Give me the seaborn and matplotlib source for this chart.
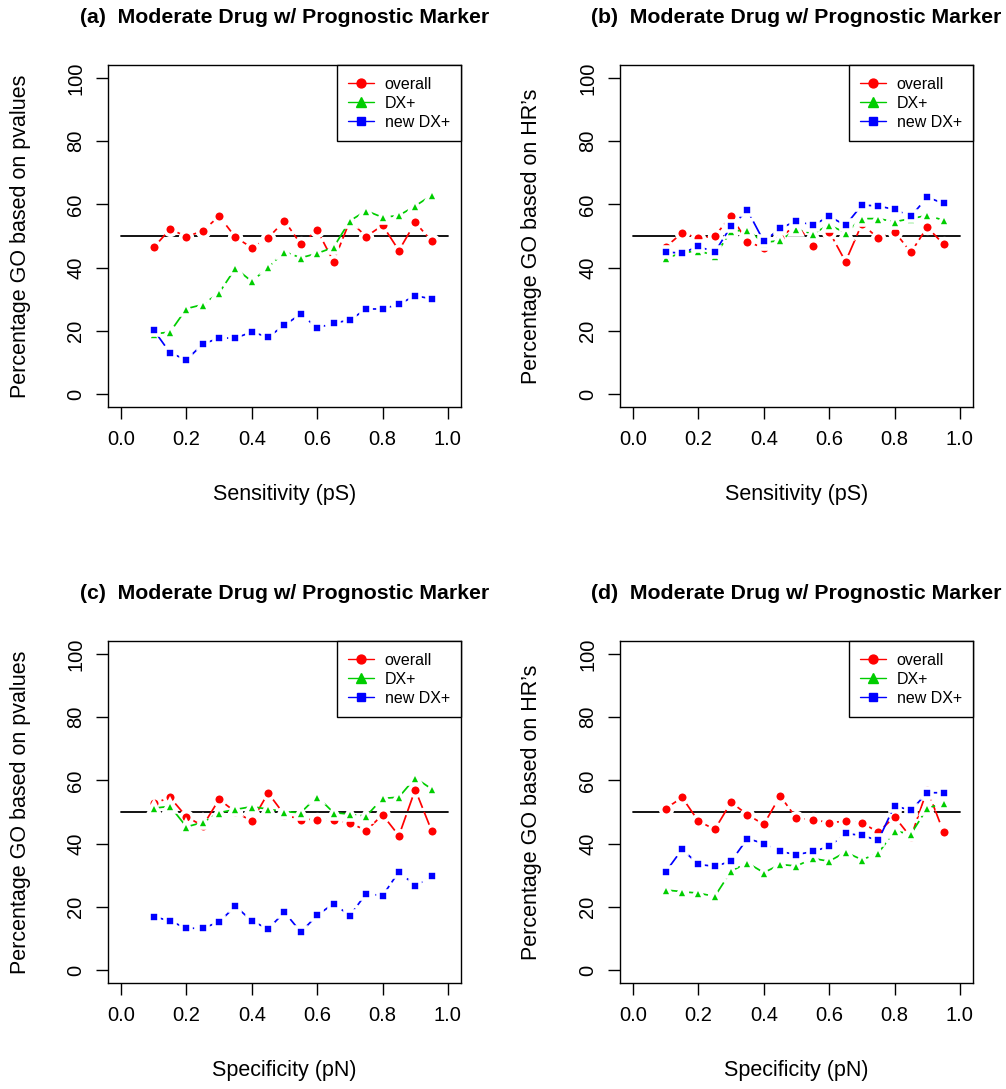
import matplotlib
matplotlib.use('Agg')
import matplotlib.pyplot as plt
import seaborn as sns
from matplotlib.lines import Line2D

# ================= 数据 =================
X = [0.10, 0.15, 0.20, 0.25, 0.30, 0.35, 0.40, 0.45, 0.50,
     0.55, 0.60, 0.65, 0.70, 0.75, 0.80, 0.85, 0.90, 0.95]

A_OVERALL = [46.4, 52.2, 49.8, 51.6, 56.3, 49.6, 46.3, 49.4, 54.8, 47.4, 51.9, 41.9, 54.8, 49.8, 53.4, 45.4, 54.3, 48.4]
A_DX = [19.0, 19.6, 27.0, 28.3, 32.0, 39.8, 35.6, 40.1, 45.0, 43.1, 44.5, 46.4, 54.8, 58.0, 55.9, 56.5, 59.5, 62.9]
A_NEW = [20.2, 13.0, 10.8, 15.8, 17.7, 17.7, 19.6, 18.0, 21.8, 25.3, 20.9, 22.4, 23.4, 26.9, 26.9, 28.4, 31.1, 30.1]

B_OVERALL = [46.5, 51.0, 49.3, 50.0, 56.3, 48.1, 46.3, 49.3, 53.8, 46.8, 51.4, 41.9, 53.8, 49.3, 51.4, 44.8, 52.8, 47.4]
B_DX = [43.0, 44.6, 45.4, 43.7, 51.6, 51.8, 47.9, 48.6, 52.1, 50.7, 53.5, 51.0, 55.5, 55.5, 54.5, 55.5, 56.5, 55.0]
B_NEW = [44.9, 44.6, 46.7, 44.9, 53.1, 58.1, 48.3, 52.4, 54.8, 53.4, 56.2, 53.4, 59.8, 59.5, 58.4, 56.2, 62.3, 60.3]

C_OVERALL = [52.7, 54.6, 48.5, 45.6, 54.0, 50.0, 47.1, 56.0, 49.1, 47.6, 47.6, 47.6, 46.6, 44.1, 49.1, 42.5, 57.1, 44.1]
C_DX = [51.2, 51.8, 45.3, 46.7, 49.8, 50.8, 51.7, 50.9, 50.1, 49.8, 54.9, 49.8, 49.3, 48.7, 54.3, 54.7, 60.8, 57.3]
C_NEW = [16.9, 15.5, 13.2, 13.2, 15.2, 20.2, 15.5, 13.0, 18.3, 12.0, 17.3, 21.0, 17.2, 24.2, 23.5, 31.1, 26.7, 29.6]

D_OVERALL = [51.1, 54.6, 47.1, 44.5, 53.1, 49.1, 46.1, 55.1, 48.0, 47.6, 46.6, 47.1, 46.6, 43.6, 48.5, 42.0, 57.1, 43.6]
D_DX = [25.3, 24.8, 24.3, 23.3, 31.3, 33.9, 30.8, 33.4, 32.9, 35.3, 34.4, 37.3, 34.9, 36.9, 44.0, 43.0, 51.2, 52.8]
D_NEW = [31.1, 38.2, 33.4, 32.8, 34.4, 41.6, 40.0, 37.5, 36.5, 37.5, 39.1, 43.2, 42.6, 41.0, 52.0, 50.5, 56.1, 56.1]

REF_X = [0.0, 1.0]
REF_Y = [50, 50]

SERIES = ['overall', 'DX+', 'new DX+']
PANELS = [
    ('(a)  Moderate Drug w/ Prognostic Marker', 'Sensitivity (pS)', 'Percentage GO based on pvalues', [A_OVERALL, A_DX, A_NEW]),
    ('(b)  Moderate Drug w/ Prognostic Marker', 'Sensitivity (pS)', 'Percentage GO based on HR\u2019s', [B_OVERALL, B_DX, B_NEW]),
    ('(c)  Moderate Drug w/ Prognostic Marker', 'Specificity (pN)', 'Percentage GO based on pvalues', [C_OVERALL, C_DX, C_NEW]),
    ('(d)  Moderate Drug w/ Prognostic Marker', 'Specificity (pN)', 'Percentage GO based on HR\u2019s', [D_OVERALL, D_DX, D_NEW]),
]

# ================= 样式 =================
COLORS = ['#FF0000', '#00CD00', '#0000FF']
MARKERS = ['o', '^', 's']
MSIZES = [8.4, 8.6, 7.6]

sns.set_style('ticks')
plt.rcParams['font.family'] = ['Liberation Sans', 'DejaVu Sans']
for k in ['text.color', 'axes.labelcolor', 'xtick.color', 'ytick.color']:
    plt.rcParams[k] = 'black'

W, H = 1006, 1089
fig = plt.figure(figsize=(W / 100, H / 100), dpi=100)

# 像素位置 (left, top, right, bottom)
BOXES = [(108, 65.4, 461, 406.6), (620, 65.4, 973, 406.6),
         (108, 641.4, 461, 982.6), (620, 641.4, 973, 982.6)]

for (title, xlab, ylab, data), (l, t, r, b) in zip(PANELS, BOXES):
    ax = fig.add_axes([l / W, 1 - b / H, (r - l) / W, (b - t) / H])

    for vals, c, m, ms in zip(data, COLORS, MARKERS, MSIZES):
        sns.lineplot(x=X, y=vals, ax=ax, color=c, marker=m, markersize=ms,
                     markeredgecolor='white', markeredgewidth=2.6,
                     linewidth=1.25, linestyle=(0, (11, 2.5)), zorder=3)

    ax.plot(REF_X, REF_Y, color='black', linewidth=1.3, zorder=2)

    ax.set_xlim(-0.04, 1.04)
    ax.set_ylim(-4, 104)
    ax.set_xticks([0.0, 0.2, 0.4, 0.6, 0.8, 1.0])
    ax.set_xticklabels(['0.0', '0.2', '0.4', '0.6', '0.8', '1.0'])
    ax.set_yticks([0, 20, 40, 60, 80, 100])
    ax.set_yticklabels(['0', '20', '40', '60', '80', '100'], rotation=90, va='center')
    ax.tick_params(axis='both', direction='out', length=8.5, width=1.0,
                   labelsize=14.5, color='black', labelcolor='black')
    ax.tick_params(axis='x', pad=8)
    ax.tick_params(axis='y', pad=8)
    for s in ax.spines.values():
        s.set_visible(True)
        s.set_color('black')
        s.set_linewidth(1.0)

    ax.set_xlabel(xlab, fontsize=15.5, va='center')
    ax.xaxis.set_label_coords(0.5, -88 / (b - t))
    ax.set_ylabel(ylab, fontsize=15.5, va='center')
    ax.yaxis.set_label_coords(-88 / (r - l), 0.5)

    ax.text(0.5, 1 + 48 / (b - t), title, transform=ax.transAxes,
            ha='center', va='center', fontsize=15.3, fontweight='bold')

    handles = [Line2D([0], [0], color=c, marker=m, markersize=ms - 2.0, linewidth=1.0)
               for c, m, ms in zip(COLORS, MARKERS, MSIZES)]
    leg = ax.legend(handles, SERIES, loc='upper right', fontsize=11.5,
                    frameon=True, fancybox=False, borderaxespad=0,
                    handlelength=1.6, handletextpad=0.7, labelspacing=0.25,
                    borderpad=0.7)
    leg.get_frame().set_edgecolor('black')
    leg.get_frame().set_linewidth(1.0)
    leg.get_frame().set_alpha(1)

fig.savefig('out.png', dpi=100)
